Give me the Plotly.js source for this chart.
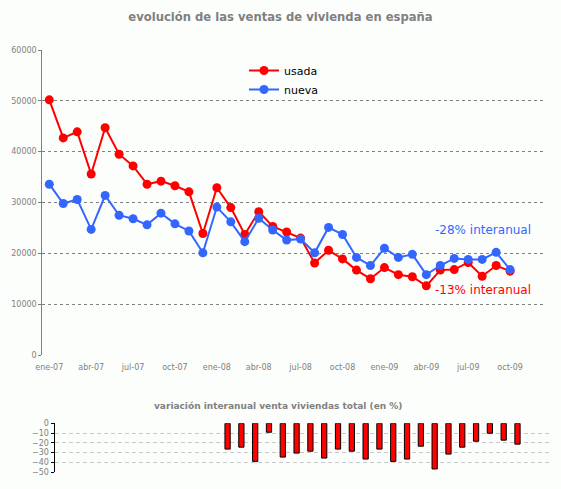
<!DOCTYPE html>
<html>
<head>
<meta charset="utf-8">
<script src="https://cdn.plot.ly/plotly-3.0.1.min.js"></script>
<style>html,body{margin:0;padding:0;background:#fcfefc;}#chart{width:561px;height:489px;}</style>
</head>
<body>
<div id="chart"></div>
<script>
const months = ["ene-07","feb-07","mar-07","abr-07","may-07","jun-07","jul-07","ago-07","sep-07","oct-07","nov-07","dic-07",
                "ene-08","feb-08","mar-08","abr-08","may-08","jun-08","jul-08","ago-08","sep-08","oct-08","nov-08","dic-08",
                "ene-09","feb-09","mar-09","abr-09","may-09","jun-09","jul-09","ago-09","sep-09","oct-09","nov-09","dic-09"];
const usada = [50200,42700,43900,35600,44700,39500,37200,33600,34200,33300,32100,23900,
               32900,29000,23700,28200,25300,24200,23000,18100,20600,18900,16700,15000,
               17200,15800,15400,13600,16700,16800,18200,15500,17600,16500];
const nueva = [33600,29800,30600,24700,31400,27500,26800,25600,27900,25800,24400,20100,
               29100,26200,22300,26900,24600,22600,22800,20100,25100,23700,19200,17600,
               21000,19200,19800,15800,17600,19000,18800,18800,20200,16800];
const variacionMonths = months.slice(12, 34);
const variacion = [-26.5,-24.5,-39.1,-9.2,-34.7,-30.6,-28.6,-35.7,-26.5,-28.6,-36.7,
                   -26.5,-39.1,-36.7,-23.5,-46.9,-31.6,-24.5,-18.4,-10.2,-17.3,-21.4];
const tickLabels = months.filter((m, i) => i % 3 === 0);
const boundaryTicks = months.map((m, i) => i - 0.5).filter((v, i) => i % 3 === 0).concat([months.length - 0.5]);

const W = 561, H = 489;
const px = v => v / W;
const py = v => 1 - v / H;
const RED = "#ff0000", BLUE = "#3366ff", GREY = "#808080";
const tickFont = {family: "DejaVu Sans, Verdana, sans-serif", size: 8, color: GREY};

const traces = [
  {x: months.slice(0, usada.length), y: usada, name: "usada", type: "scatter", mode: "lines+markers",
   line: {color: RED, width: 2}, marker: {color: RED, size: 9}, xaxis: "x", yaxis: "y"},
  {x: months.slice(0, nueva.length), y: nueva, name: "nueva", type: "scatter", mode: "lines+markers",
   line: {color: BLUE, width: 2}, marker: {color: BLUE, size: 9}, xaxis: "x", yaxis: "y"},
  {x: variacionMonths, y: variacion, type: "bar", showlegend: false, xaxis: "x2", yaxis: "y2",
   marker: {color: RED, line: {color: "#000000", width: 1}}}
];

const layout = {
  width: W, height: H,
  margin: {l: 0, r: 0, t: 0, b: 0},
  paper_bgcolor: "#fcfefc", plot_bgcolor: "rgba(0,0,0,0)",
  showlegend: true,
  bargap: 0.62,
  title: {text: "evolución de las ventas de vivienda en españa", x: 0.5, xanchor: "center", y: py(17), yanchor: "middle",
          font: {family: "DejaVu Sans, Verdana, sans-serif", size: 11.6, color: GREY, weight: "bold"}},
  legend: {x: px(244), y: py(56), xanchor: "left", yanchor: "top", bgcolor: "rgba(0,0,0,0)",
           font: {family: "DejaVu Sans, Verdana, sans-serif", size: 11, color: "#000000"}, tracegroupgap: 0},
  xaxis: {domain: [px(42.3), px(545)], anchor: "y", type: "category", categoryarray: months, categoryorder: "array",
          range: [-0.5, months.length - 0.5], tickvals: tickLabels, ticktext: tickLabels, ticks: "",
          showline: false, showgrid: false, zeroline: false, tickfont: tickFont, ticklabelstandoff: 6},
  xaxis3: {overlaying: "x", anchor: "y", type: "linear", range: [-0.5, months.length - 0.5],
           tickvals: boundaryTicks, ticks: "outside", ticklen: 4, tickcolor: GREY, tickwidth: 1,
           showticklabels: false, showline: true, linecolor: GREY, linewidth: 1, showgrid: false, zeroline: false},
  yaxis: {domain: [py(355), py(50)], anchor: "x", range: [0, 60000], dtick: 10000, tickformat: "d",
          showline: true, linecolor: GREY, linewidth: 1, ticks: "outside", ticklen: 3, tickcolor: GREY,
          showgrid: true, gridcolor: GREY, gridwidth: 1, griddash: "3px,3px", zeroline: false, tickfont: tickFont},
  xaxis2: {domain: [px(55), px(552)], anchor: "y2", type: "category", categoryarray: months, categoryorder: "array",
           range: [-0.5, months.length - 0.5], visible: false},
  yaxis2: {domain: [py(472), py(423.3)], anchor: "x2", range: [-50, 0], dtick: 10,
           showline: true, linecolor: "#000000", linewidth: 1.5, ticks: "outside", ticklen: 3, tickcolor: "#000000",
           showgrid: true, gridcolor: "#c8c8c8", gridwidth: 1, griddash: "4px,3px", zeroline: false, tickfont: tickFont},
  annotations: [
    {text: "-28% interanual", x: px(482.5), y: py(230), xref: "paper", yref: "paper", showarrow: false,
     xanchor: "center", yanchor: "middle", font: {family: "DejaVu Sans, Verdana, sans-serif", size: 12, color: BLUE}},
    {text: "-13% interanual", x: px(482.5), y: py(290), xref: "paper", yref: "paper", showarrow: false,
     xanchor: "center", yanchor: "middle", font: {family: "DejaVu Sans, Verdana, sans-serif", size: 12, color: RED}},
    {text: "variación interanual venta viviendas total (en %)", x: px(278), y: py(406), xref: "paper", yref: "paper",
     showarrow: false, xanchor: "center", yanchor: "middle",
     font: {family: "DejaVu Sans, Verdana, sans-serif", size: 9, color: GREY, weight: "bold"}}
  ]
};

Plotly.newPlot("chart", traces, layout, {displayModeBar: false, staticPlot: true});
</script>
</body>
</html>
